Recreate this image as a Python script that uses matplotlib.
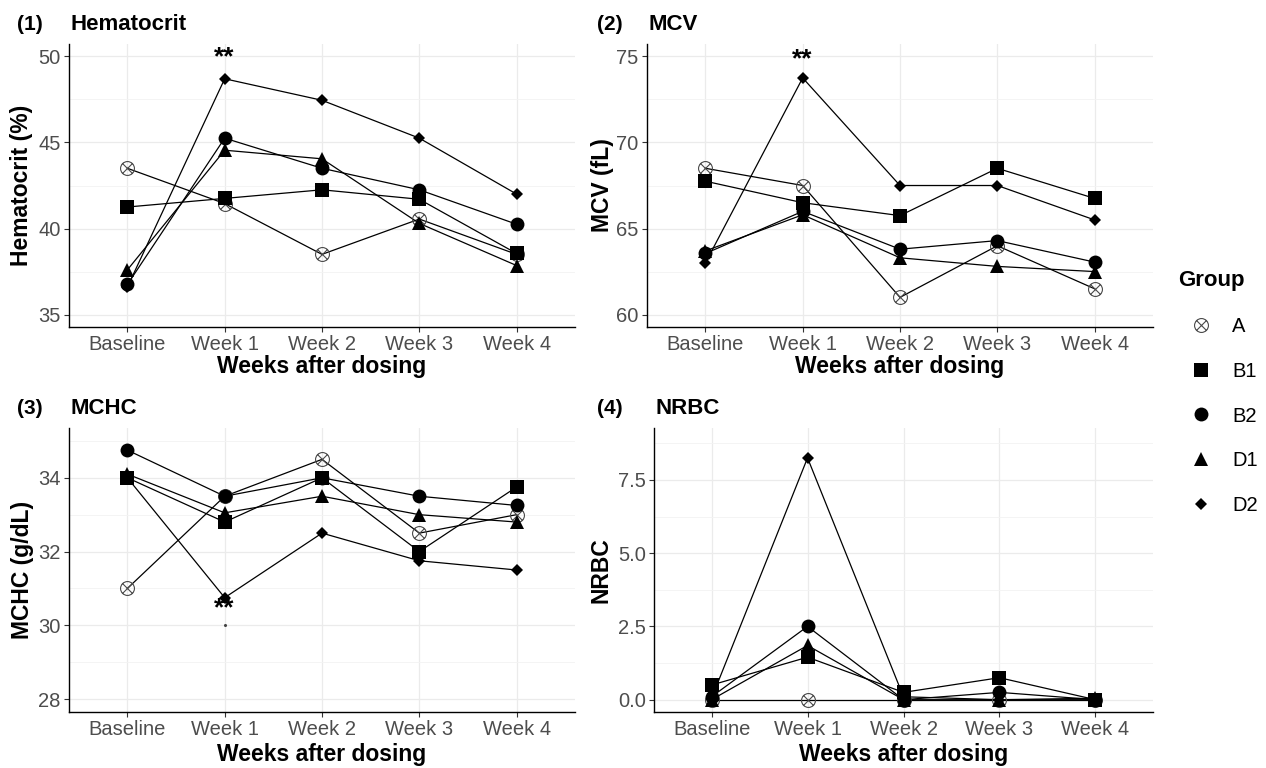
import numpy as np
import matplotlib
matplotlib.use('Agg')
import matplotlib.pyplot as plt
from matplotlib.path import Path
from matplotlib.lines import Line2D
from matplotlib.ticker import FixedLocator, FixedFormatter

plt.rcParams['font.family'] = ['Liberation Sans', 'DejaVu Sans']

# ---------------- data ----------------
weeks = ['Baseline', 'Week 1', 'Week 2', 'Week 3', 'Week 4']
groups = ['A', 'B1', 'B2', 'D1', 'D2']

hct_A = [43.5, 41.45, 38.5, 40.55, 38.5]
hct_B1 = [41.25, 41.75, 42.25, 41.7, 38.55]
hct_B2 = [36.75, 45.25, 43.5, 42.25, 40.25]
hct_D1 = [37.6, 44.55, 44.05, 40.3, 37.85]
hct_D2 = [36.6, 48.7, 47.45, 45.25, 42.0]

mcv_A = [68.5, 67.5, 61.0, 64.0, 61.5]
mcv_B1 = [67.75, 66.5, 65.75, 68.5, 66.75]
mcv_B2 = [63.55, 66.0, 63.8, 64.3, 63.05]
mcv_D1 = [63.7, 65.8, 63.3, 62.8, 62.5]
mcv_D2 = [63.0, 73.75, 67.5, 67.5, 65.5]

mchc_A = [31.0, 33.5, 34.5, 32.5, 33.0]
mchc_B1 = [34.0, 32.8, 34.0, 32.0, 33.75]
mchc_B2 = [34.75, 33.5, 34.0, 33.5, 33.25]
mchc_D1 = [34.1, 33.05, 33.5, 33.0, 32.8]
mchc_D2 = [34.0, 30.75, 32.5, 31.75, 31.5]

nrbc_A = [0.0, 0.0, 0.0, 0.0, 0.0]
nrbc_B1 = [0.5, 1.45, 0.25, 0.75, 0.0]
nrbc_B2 = [0.1, 2.5, 0.0, 0.25, 0.0]
nrbc_D1 = [0.0, 1.85, 0.0, 0.0, 0.05]
nrbc_D2 = [0.05, 8.25, 0.1, 0.0, 0.0]

# significance marks: (week, y)
sig_hct = ('Week 1', 49.95)
sig_mcv = ('Week 1', 74.85)
sig_mchc = ('Week 1', 30.45)
dot_mchc = ('Week 1', 30.0)

hct_ticks = [35, 40, 45, 50]
mcv_ticks = [60, 65, 70, 75]
mchc_ticks = [28, 30, 32, 34]
nrbc_ticks = [0.0, 2.5, 5.0, 7.5]
nrbc_ticklabels = ['0.0', '2.5', '5.0', '7.5']

# ---------------- styling ----------------
d = np.sqrt(0.5)
otimes = Path.make_compound_path(
    Path.unit_circle(),
    Path([(-d, -d), (d, d), (-d, d), (d, -d)],
         [Path.MOVETO, Path.LINETO, Path.MOVETO, Path.LINETO]))

mstyle = {
    'A': dict(marker=otimes, ms=10, mfc='none', mec='#4a4a4a', mew=0.8),
    'B1': dict(marker='s', ms=9.5, mfc='black', mec='black', mew=0),
    'B2': dict(marker='o', ms=10, mfc='black', mec='black', mew=0),
    'D1': dict(marker='^', ms=10.5, mfc='black', mec='black', mew=0),
    'D2': dict(marker='D', ms=6, mfc='black', mec='black', mew=0),
}

W, H = 1266, 768
fig = plt.figure(figsize=(W / 100, H / 100), dpi=100)


def px_rect(x0, y0, x1, y1):
    return [x0 / W, 1 - y1 / H, (x1 - x0) / W, (y1 - y0) / H]


TICK_FS = 14.5
LAB_FS = 16.5
TITLE_FS = 16

panels = [
    dict(rect=(69, 44, 575, 327), series=[hct_A, hct_B1, hct_B2, hct_D1, hct_D2],
         ylabel='Hematocrit (%)', tag='(1)', title='Hematocrit', tagx=17, ylabx=22, xlaboff=40,
         ylim=(34.28, 50.72), ticks=hct_ticks, labels=[str(t) for t in hct_ticks],
         sig=[sig_hct], dot=None),
    dict(rect=(647, 44, 1153, 327), series=[mcv_A, mcv_B1, mcv_B2, mcv_D1, mcv_D2],
         ylabel='MCV (fL)', tag='(2)', title='MCV', tagx=597, ylabx=602, xlaboff=40,
         ylim=(59.28, 75.72), ticks=mcv_ticks, labels=[str(t) for t in mcv_ticks],
         sig=[sig_mcv], dot=None),
    dict(rect=(69, 428, 575, 712), series=[mchc_A, mchc_B1, mchc_B2, mchc_D1, mchc_D2],
         ylabel='MCHC (g/dL)', tag='(3)', title='MCHC', tagx=17, ylabx=23, xlaboff=42,
         ylim=(27.65, 35.35), ticks=mchc_ticks, labels=[str(t) for t in mchc_ticks],
         sig=[sig_mchc], dot=dot_mchc),
    dict(rect=(654, 428, 1153, 712), series=[nrbc_A, nrbc_B1, nrbc_B2, nrbc_D1, nrbc_D2],
         ylabel='NRBC', tag='(4)', title='NRBC', tagx=597, ylabx=601, xlaboff=42,
         ylim=(-0.42, 9.27), ticks=nrbc_ticks, labels=nrbc_ticklabels,
         sig=[], dot=None),
]

xpos = np.arange(len(weeks))

for p in panels:
    x0, y0, x1, y1 = p['rect']
    ax = fig.add_axes(px_rect(*p['rect']))
    ax.set_xlim(-0.6, len(weeks) - 0.4)
    ax.set_ylim(*p['ylim'])
    ax.xaxis.set_major_locator(FixedLocator(xpos))
    ax.xaxis.set_major_formatter(FixedFormatter(weeks))
    ax.yaxis.set_major_locator(FixedLocator(p['ticks']))
    ax.yaxis.set_major_formatter(FixedFormatter(p['labels']))
    t = p['ticks']
    step = t[1] - t[0]
    minors = [v + step / 2 for v in [t[0] - step] + list(t)]
    ax.yaxis.set_minor_locator(FixedLocator(minors))
    ax.grid(True, which='major', color='#EBEBEB', lw=0.9, zorder=0)
    ax.grid(True, which='minor', axis='y', color='#F3F3F3', lw=0.6, zorder=0)
    ax.set_axisbelow(True)
    for s in ['top', 'right']:
        ax.spines[s].set_visible(False)
    for s in ['left', 'bottom']:
        ax.spines[s].set_color('black')
        ax.spines[s].set_linewidth(1.0)
    ax.tick_params(which='major', length=3.5, width=0.8, color='#333333',
                   labelsize=TICK_FS, labelcolor='#4D4D4D', pad=2.5)
    ax.tick_params(which='minor', length=0)

    # lines first, then points
    for g, ys in zip(groups, p['series']):
        ax.plot(xpos, ys, color='black', lw=0.9, zorder=2)
    for g, ys in zip(groups, p['series']):
        ax.plot(xpos, ys, ls='none', zorder=3, **mstyle[g])

    for wk, yv in p['sig']:
        ax.text(weeks.index(wk), yv, '**', ha='center', va='center',
                fontsize=19, fontweight='bold', color='black', zorder=4)
    if p['dot'] is not None:
        wk, yv = p['dot']
        ax.plot([weeks.index(wk)], [yv], marker='o', ms=1.2, color='#444444', ls='none')

    ax.set_ylabel(p['ylabel'], fontsize=LAB_FS, fontweight='bold', va='center')
    ax.yaxis.set_label_coords((p['ylabx'] - x0) / (x1 - x0), 0.5)
    ax.set_xlabel('Weeks after dosing', fontsize=LAB_FS, fontweight='bold', va='center')
    ax.xaxis.set_label_coords(0.5, -p['xlaboff'] / (y1 - y0))

    fig.text(p['tagx'] / W, 1 - (y0 - 20) / H, p['tag'], fontsize=TITLE_FS - 1,
             fontweight='bold', va='center', ha='left')
    fig.text((x0 + 2) / W, 1 - (y0 - 20) / H, p['title'], fontsize=TITLE_FS,
             fontweight='bold', va='center', ha='left')

# legend
handles = [Line2D([], [], ls='none', **mstyle[g]) for g in groups]
leg = fig.legend(handles, groups, title='Group', loc='upper left',
                 bbox_to_anchor=(1178 / W, 1 - 270 / H), frameon=False,
                 fontsize=TICK_FS, title_fontproperties={'weight': 'bold', 'size': 16},
                 labelspacing=1.27, handletextpad=0.4, handlelength=2.3,
                 borderpad=0, borderaxespad=0, alignment='left')
leg._legend_box.sep = 19
for txt in leg.get_texts():
    txt.set_color('black')

fig.savefig('out.png', dpi=100)
